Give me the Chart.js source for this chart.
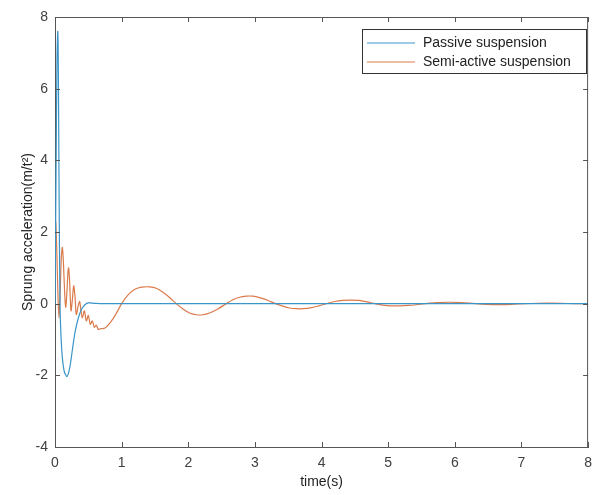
<!DOCTYPE html>
<html>
<head>
<meta charset="utf-8">
<script src="https://cdn.jsdelivr.net/npm/chart.js@4.4.0/dist/chart.umd.min.js"></script>
<style>
  html, body { margin: 0; padding: 0; background: #fff; }
  #wrap { width: 600px; height: 495px; }
</style>
</head>
<body>
<div id="wrap"><canvas id="lineChart" width="600" height="495"></canvas></div>
<script>
// time axis ticks
var xTicks = [0, 1, 2, 3, 4, 5, 6, 7, 8];
var yTicks = [-4, -2, 0, 2, 4, 6, 8];

// passive suspension
var timePassive = [0, 0.015, 0.03, 0.042, 0.05, 0.06, 0.075, 0.09, 0.11, 0.14, 0.18, 0.22, 0.26, 0.3, 0.35, 0.4, 0.45, 0.5, 0.6, 0.8, 8];
var passive = [0, 3.5, 6.8, 7.6, 6.6, 3.5, 0, -0.9, -1.5, -1.9, -2.03, -1.8, -1.3, -0.8, -0.4, -0.15, -0.03, 0.02, 0.01, 0, 0];

// semi-active suspension
var timeSemi = [0, 0.01, 0.025, 0.045, 0.06, 0.075, 0.095, 0.11, 0.125, 0.145, 0.16, 0.175, 0.195, 0.205, 0.22, 0.24, 0.26, 0.28, 0.3, 0.32, 0.35, 0.37, 0.39, 0.41, 0.44, 0.47, 0.5, 0.53, 0.56, 0.59, 0.62, 0.65, 0.68,
  0.75, 0.84, 0.92, 1.0, 1.1, 1.2, 1.3, 1.42, 1.52, 1.62, 1.72, 1.82, 1.92, 2.02, 2.12, 2.22, 2.32, 2.45, 2.57, 2.67, 2.77, 2.87, 2.97, 3.07, 3.2, 3.31,
  3.42, 3.52, 3.62, 3.72, 3.85, 3.96, 4.07, 4.2, 4.32, 4.44, 4.56, 4.68, 4.8, 4.92, 5.05, 5.17, 5.3, 5.42, 5.55, 5.72, 5.92, 6.1, 6.3, 6.48, 6.67, 6.85,
  7.05, 7.25, 7.42, 7.6, 7.8, 8.0];
var semiActive = [1.2, 2.3, 1.6, 0.2, -0.4, 0.2, 1.3, 1.57, 1.2, 0.3, -0.1, 0.2, 0.9, 1.0, 0.6, -0.2, 0.1, 0.5, 0.2, -0.3, -0.05, 0.06, -0.2, -0.4, -0.2, -0.48, -0.33, -0.58, -0.48, -0.66, -0.6, -0.72, -0.7,
  -0.68, -0.5, -0.27, 0, 0.25, 0.4, 0.46, 0.47, 0.43, 0.32, 0.17, 0, -0.15, -0.26, -0.31, -0.31, -0.26, -0.14, 0, 0.11, 0.18, 0.21, 0.21, 0.17, 0.09, 0,
  -0.07, -0.12, -0.14, -0.14, -0.11, -0.06, 0, 0.06, 0.09, 0.1, 0.09, 0.05, 0, -0.04, -0.06, -0.06, -0.05, -0.03, 0, 0.03, 0.04, 0.03, 0, -0.02, -0.025, -0.02,
  0, 0.012, 0.015, 0.01, 0, -0.005];

function pts(xs, ys) {
    return xs.map(function (x, i) { return {x: x, y: ys[i]}; });
}

var axisColor = '#555555';
var textColor = '#404040';

// box frame, inward ticks and legend like the matlab figure
var matlabFrame = {
    id: 'matlabFrame',
    afterDraw: function (chart) {
        var ctx = chart.ctx;
        var a = chart.chartArea;
        var xs = chart.scales.x, ys = chart.scales.y;
        ctx.save();
        ctx.strokeStyle = axisColor;
        ctx.lineWidth = 1;
        ctx.beginPath();
        ctx.moveTo(a.left, a.top + 0.5);
        ctx.lineTo(a.right, a.top + 0.5);
        ctx.moveTo(a.right - 0.5, a.top);
        ctx.lineTo(a.right - 0.5, a.bottom);
        xTicks.forEach(function (v) {
            var px = Math.round(xs.getPixelForValue(v)) + 0.5;
            ctx.moveTo(px, a.bottom); ctx.lineTo(px, a.bottom - 5);
            ctx.moveTo(px, a.top); ctx.lineTo(px, a.top + 5);
        });
        yTicks.forEach(function (v) {
            var py = Math.round(ys.getPixelForValue(v)) + 0.5;
            ctx.moveTo(a.left, py); ctx.lineTo(a.left + 5, py);
            ctx.moveTo(a.right, py); ctx.lineTo(a.right - 5, py);
        });
        ctx.stroke();

        // legend
        var lx = 362, ly = 29, lw = 224, lh = 44;
        ctx.fillStyle = '#fff';
        ctx.fillRect(lx, ly, lw, lh);
        ctx.strokeStyle = '#333';
        ctx.strokeRect(lx + 0.5, ly + 0.5, lw, lh);
        ctx.font = '14px "Liberation Sans", Arial, sans-serif';
        ctx.textBaseline = 'middle';
        chart.data.datasets.forEach(function (ds, i) {
            var y = ly + 14 + i * 19;
            ctx.strokeStyle = ds.borderColor;
            ctx.beginPath();
            ctx.moveTo(lx + 5, y); ctx.lineTo(lx + 53, y);
            ctx.stroke();
            ctx.fillStyle = '#222';
            ctx.fillText(ds.label, lx + 61, y);
        });
        ctx.restore();
    }
};

var lineData = {
    datasets: [{
        label: 'Passive suspension',
        data: pts(timePassive, passive),
        borderColor: '#3a95c9',
        borderWidth: 1.2,
        pointRadius: 0,
        tension: 0.3
    }, {
        label: 'Semi-active suspension',
        data: pts(timeSemi, semiActive),
        borderColor: '#db7a4a',
        borderWidth: 1.2,
        pointRadius: 0,
        tension: 0.3
    }]
};

var lineOptions = {
    responsive: false,
    animation: false,
    layout: {padding: {top: 17, right: 3, bottom: 0, left: 0}},
    plugins: {legend: {display: false}, tooltip: {enabled: false}},
    scales: {
        x: {
            type: 'linear',
            min: 0, max: 8,
            afterBuildTicks: function (s) { s.ticks = xTicks.map(function (v) { return {value: v}; }); },
            afterFit: function (s) { s.height = 48; },
            grid: {display: false, drawTicks: false},
            border: {display: true, color: axisColor, width: 1},
            ticks: {color: textColor, padding: 8, maxRotation: 0, font: {family: '"Liberation Sans", Arial, sans-serif', size: 14}},
            title: {display: true, text: 'time(s)', color: '#222', padding: {top: 0, bottom: 4}, font: {family: '"Liberation Sans", Arial, sans-serif', size: 14}}
        },
        y: {
            type: 'linear',
            min: -4, max: 8,
            afterBuildTicks: function (s) { s.ticks = yTicks.map(function (v) { return {value: v}; }); },
            afterFit: function (s) { s.width = 55; },
            grid: {display: false, drawTicks: false},
            border: {display: true, color: axisColor, width: 1},
            ticks: {color: textColor, padding: 7, font: {family: '"Liberation Sans", Arial, sans-serif', size: 14}},
            title: {display: true, text: 'Sprung acceleration(m/t\u00b2)', color: '#222', padding: {top: 20, bottom: 0}, font: {family: '"Liberation Sans", Arial, sans-serif', size: 14}}
        }
    }
};

var ctx = document.getElementById('lineChart').getContext('2d');
new Chart(ctx, {type: 'line', data: lineData, options: lineOptions, plugins: [matlabFrame]});
</script>
</body>
</html>
